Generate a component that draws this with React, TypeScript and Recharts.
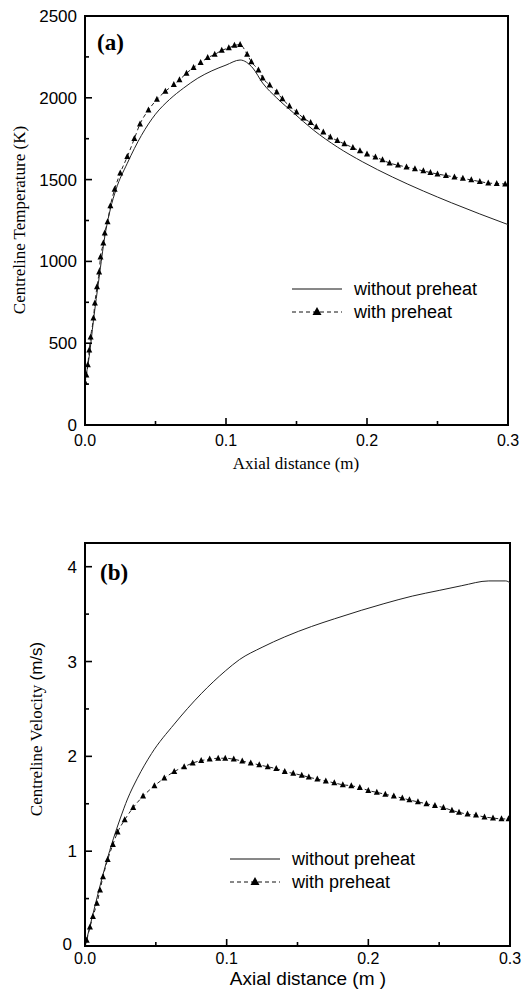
import React from "react";
import { Line, LineChart, ReferenceArea, XAxis, YAxis } from "recharts";

const SANS = "'Liberation Sans', Arial, sans-serif";
const SERIF = "'Liberation Serif', 'Times New Roman', serif";

// (a) centreline temperature, K
const tempPlainX = [
  0, 0.003, 0.006, 0.01, 0.014, 0.018, 0.022, 0.03, 0.04, 0.05, 0.06, 0.07, 0.08, 0.09, 0.1, 0.11,
  0.119, 0.126, 0.136, 0.148, 0.162, 0.179, 0.197, 0.218, 0.24, 0.26, 0.28, 0.3,
];
const tempPlainY = [
  270, 420, 640, 900, 1150, 1320, 1440, 1600, 1770, 1900, 1990, 2060, 2120, 2165, 2200, 2231,
  2182, 2090, 1999, 1907, 1803, 1699, 1608, 1516, 1430, 1358, 1290, 1225,
];
const tempPreX = [
  0, 0.001, 0.002, 0.003, 0.004, 0.006, 0.007, 0.0085, 0.01, 0.011, 0.013, 0.014, 0.016, 0.018,
  0.021, 0.025, 0.03, 0.035, 0.039, 0.045, 0.051, 0.057, 0.063, 0.067, 0.072, 0.077, 0.082,
  0.087, 0.092, 0.097, 0.102, 0.106, 0.11, 0.115, 0.118, 0.123, 0.126, 0.131, 0.136, 0.14,
  0.145, 0.15, 0.155, 0.16, 0.164, 0.169, 0.174, 0.179, 0.184, 0.19, 0.195, 0.2, 0.206, 0.211,
  0.216, 0.222, 0.228, 0.234, 0.24, 0.245, 0.25, 0.256, 0.262, 0.268, 0.274, 0.28, 0.286,
  0.292, 0.298,
];
const tempPreY = [
  260, 305, 367, 458, 538, 654, 745, 844, 935, 1027, 1112, 1173, 1241, 1340, 1440, 1540, 1640,
  1750, 1840, 1925, 1990, 2040, 2080, 2110, 2150, 2185, 2215, 2245, 2265, 2290, 2305, 2320,
  2325, 2265, 2219, 2170, 2121, 2078, 2035, 1993, 1950, 1913, 1876, 1848, 1822, 1790, 1760,
  1738, 1718, 1695, 1675, 1656, 1638, 1620, 1601, 1588, 1577, 1565, 1553, 1543, 1534, 1525,
  1516, 1507, 1498, 1488, 1479, 1476, 1473,
];

// (b) centreline velocity, m/s
const velPlainX = [
  0, 0.005, 0.01, 0.015, 0.02, 0.025, 0.03, 0.037, 0.047, 0.063, 0.082, 0.099, 0.109, 0.125,
  0.141, 0.16, 0.176, 0.195, 0.211, 0.231, 0.25, 0.266, 0.285, 0.297, 0.3,
];
const velPlainY = [
  0, 0.3, 0.6, 0.88, 1.13, 1.35, 1.55, 1.77, 2.03, 2.34, 2.66, 2.9, 3.02, 3.15, 3.26, 3.37, 3.45,
  3.54, 3.61, 3.69, 3.75, 3.8, 3.85, 3.85, 3.83,
];
const velPreX = [
  0, 0.0012, 0.0035, 0.0056, 0.0084, 0.0106, 0.0127, 0.016, 0.0197, 0.023, 0.028, 0.034, 0.041,
  0.049, 0.056, 0.063, 0.07, 0.076, 0.082, 0.088, 0.094, 0.099, 0.105, 0.111, 0.117, 0.123,
  0.129, 0.135, 0.141, 0.147, 0.153, 0.158, 0.164, 0.17, 0.176, 0.182, 0.188, 0.194, 0.2,
  0.206, 0.212, 0.218, 0.224, 0.229, 0.235, 0.241, 0.247, 0.253, 0.259, 0.264, 0.27, 0.276,
  0.282, 0.288, 0.294, 0.299,
];
const velPreY = [
  0, 0.06, 0.2, 0.31, 0.45, 0.59, 0.73, 0.91, 1.07, 1.2, 1.33, 1.46, 1.58, 1.69, 1.77, 1.84, 1.89,
  1.93, 1.955, 1.97, 1.98, 1.98, 1.97, 1.95, 1.93, 1.91, 1.89, 1.87, 1.84, 1.82, 1.8, 1.78, 1.76,
  1.74, 1.72, 1.7, 1.69, 1.67, 1.64, 1.62, 1.6, 1.58, 1.56, 1.54, 1.52, 1.5, 1.48, 1.46, 1.43,
  1.41, 1.39, 1.38, 1.36, 1.35, 1.34, 1.34,
];

const xTicks = [0, 0.05, 0.1, 0.15, 0.2, 0.25, 0.3];
const tempTicks = [0, 250, 500, 750, 1000, 1250, 1500, 1750, 2000, 2250, 2500];
const velTicks = [0, 0.5, 1, 1.5, 2, 2.5, 3, 3.5, 4];

const zip = (xs: number[], ys: number[]) => xs.map((x, i) => ({ x, y: ys[i] }));

const makeXTick = (labelDy: number) => (props: any) => {
  const { x, y, payload } = props;
  const v = payload.value as number;
  const major = Math.round(v * 100) % 10 === 0;
  return (
    <g>
      <line x1={x} x2={x} y1={y} y2={y - (major ? 7 : 4)} stroke="#000" strokeWidth={1.6} />
      {major && (
        <text x={x} y={y + labelDy} textAnchor="middle" fontFamily={SANS} fontSize={16} fill="#000">
          {v.toFixed(1)}
        </text>
      )}
    </g>
  );
};

// zeroShift nudges the "0" label clear of the "0.0" x label
const makeYTick = (majorStep: number, zeroShift = 0) => (props: any) => {
  const { x, y, payload } = props;
  const v = payload.value as number;
  const major = Math.abs(v / majorStep - Math.round(v / majorStep)) < 1e-6;
  const dx = v === 0 ? zeroShift : 0;
  return (
    <g>
      <line x1={x} x2={x + (major ? 7 : 4)} y1={y} y2={y} stroke="#000" strokeWidth={1.6} />
      {major && (
        <text x={x - 8 - dx} y={y + 6 - (v === 0 ? zeroShift / 2 : 0)} textAnchor="end" fontFamily={SANS} fontSize={17} fill="#000">
          {v}
        </text>
      )}
    </g>
  );
};

const Triangle = (props: any) => {
  const { cx, cy, index } = props;
  if (cx == null || cy == null) return <g key={index} />;
  return (
    <polygon
      key={index}
      points={`${cx},${cy - 3.6} ${cx - 3},${cy + 2.4} ${cx + 3},${cy + 2.4}`}
      fill="#000"
    />
  );
};

function LegendBox({ x, y, gap }: { x: number; y: number; gap: number }) {
  return (
    <g>
      <line x1={x} x2={x + 50} y1={y} y2={y} stroke="#111" strokeWidth={1} />
      <text x={x + 62} y={y + 6} fontFamily={SANS} fontSize={18} fill="#000">
        {gap === 2 ? "without  preheat" : "without preheat"}
      </text>
      <line x1={x} x2={x + 50} y1={y + 23} y2={y + 23} stroke="#111" strokeWidth={1} strokeDasharray="4 3" />
      <polygon points={`${x + 25},${y + 18} ${x + 20.5},${y + 26} ${x + 29.5},${y + 26}`} fill="#000" />
      <text x={x + 62} y={y + 29} fontFamily={SANS} fontSize={18} fill="#000">
        with preheat
      </text>
    </g>
  );
}

export default function App() {
  return (
    <div style={{ position: "absolute", left: 0, top: 0, width: 523, height: 992, background: "#fff" }}>
      <div style={{ position: "absolute", left: 0, top: 0 }}>
        <LineChart width={523} height={480} margin={{ top: 16, right: 15, bottom: 54, left: 84 }}>
          <XAxis
            type="number"
            dataKey="x"
            domain={[0, 0.3]}
            ticks={xTicks}
            interval={0}
            height={1}
            tickSize={0}
            tickMargin={0}
            tickLine={false}
            tick={makeXTick(21)}
            axisLine={{ stroke: "#000", strokeWidth: 2 }}
            allowDataOverflow
          />
          <YAxis
            type="number"
            dataKey="y"
            domain={[0, 2500]}
            ticks={tempTicks}
            interval={0}
            width={1}
            tickSize={0}
            tickMargin={0}
            tickLine={false}
            tick={makeYTick(500)}
            axisLine={{ stroke: "#000", strokeWidth: 2 }}
            allowDataOverflow
          />
          <ReferenceArea x1={0} x2={0.3} y1={0} y2={2500} fill="none" stroke="#000" strokeWidth={2} />
          <Line
            data={zip(tempPlainX, tempPlainY)}
            dataKey="y"
            type="monotone"
            stroke="#222"
            strokeWidth={1}
            dot={false}
            isAnimationActive={false}
          />
          <Line
            data={zip(tempPreX, tempPreY)}
            dataKey="y"
            type="monotone"
            stroke="#222"
            strokeWidth={1}
            strokeDasharray="4 3"
            dot={Triangle}
            isAnimationActive={false}
          />
          <text x={97} y={50} fontFamily={SERIF} fontWeight="bold" fontSize={23} fill="#000">
            (a)
          </text>
          <text x={296} y={469} textAnchor="middle" fontFamily={SERIF} fontSize={17} fill="#000">
            Axial distance (m)
          </text>
          <text
            x={25}
            y={220}
            textAnchor="middle"
            transform="rotate(-90, 25, 220)"
            fontFamily={SERIF}
            fontSize={17}
            fill="#000"
          >
            Centreline Temperature (K)
          </text>
          <LegendBox x={292} y={289} gap={2} />
        </LineChart>
      </div>
      <div style={{ position: "absolute", left: 0, top: 480 }}>
        <LineChart width={523} height={512} margin={{ top: 63, right: 13, bottom: 45, left: 84 }}>
          <XAxis
            type="number"
            dataKey="x"
            domain={[0, 0.3]}
            ticks={xTicks}
            interval={0}
            height={1}
            tickSize={0}
            tickMargin={0}
            tickLine={false}
            tick={makeXTick(18)}
            axisLine={{ stroke: "#000", strokeWidth: 2 }}
            allowDataOverflow
          />
          <YAxis
            type="number"
            dataKey="y"
            domain={[0, 4.25]}
            ticks={velTicks}
            interval={0}
            width={1}
            tickSize={0}
            tickMargin={0}
            tickLine={false}
            tick={makeYTick(1, 5)}
            axisLine={{ stroke: "#000", strokeWidth: 2 }}
            allowDataOverflow
          />
          <ReferenceArea x1={0} x2={0.3} y1={0} y2={4.25} fill="none" stroke="#000" strokeWidth={2} />
          <Line
            data={zip(velPlainX, velPlainY)}
            dataKey="y"
            type="monotone"
            stroke="#222"
            strokeWidth={1}
            dot={false}
            isAnimationActive={false}
          />
          <Line
            data={zip(velPreX, velPreY)}
            dataKey="y"
            type="monotone"
            stroke="#222"
            strokeWidth={1}
            strokeDasharray="4 3"
            dot={Triangle}
            isAnimationActive={false}
          />
          <text x={100} y={100} fontFamily={SERIF} fontWeight="bold" fontSize={23} fill="#000">
            (b)
          </text>
          <text x={308} y={505} textAnchor="middle" fontFamily={SANS} fontSize={19} fill="#000">
            Axial distance (m )
          </text>
          <text
            x={42}
            y={249}
            textAnchor="middle"
            transform="rotate(-90, 42, 249)"
            fontSize={17}
            fill="#000"
          >
            <tspan fontFamily={SERIF}>Centreline Velocity </tspan>
            <tspan fontFamily={SANS}>(m/s)</tspan>
          </text>
          <LegendBox x={230} y={379} gap={1} />
        </LineChart>
      </div>
    </div>
  );
}
